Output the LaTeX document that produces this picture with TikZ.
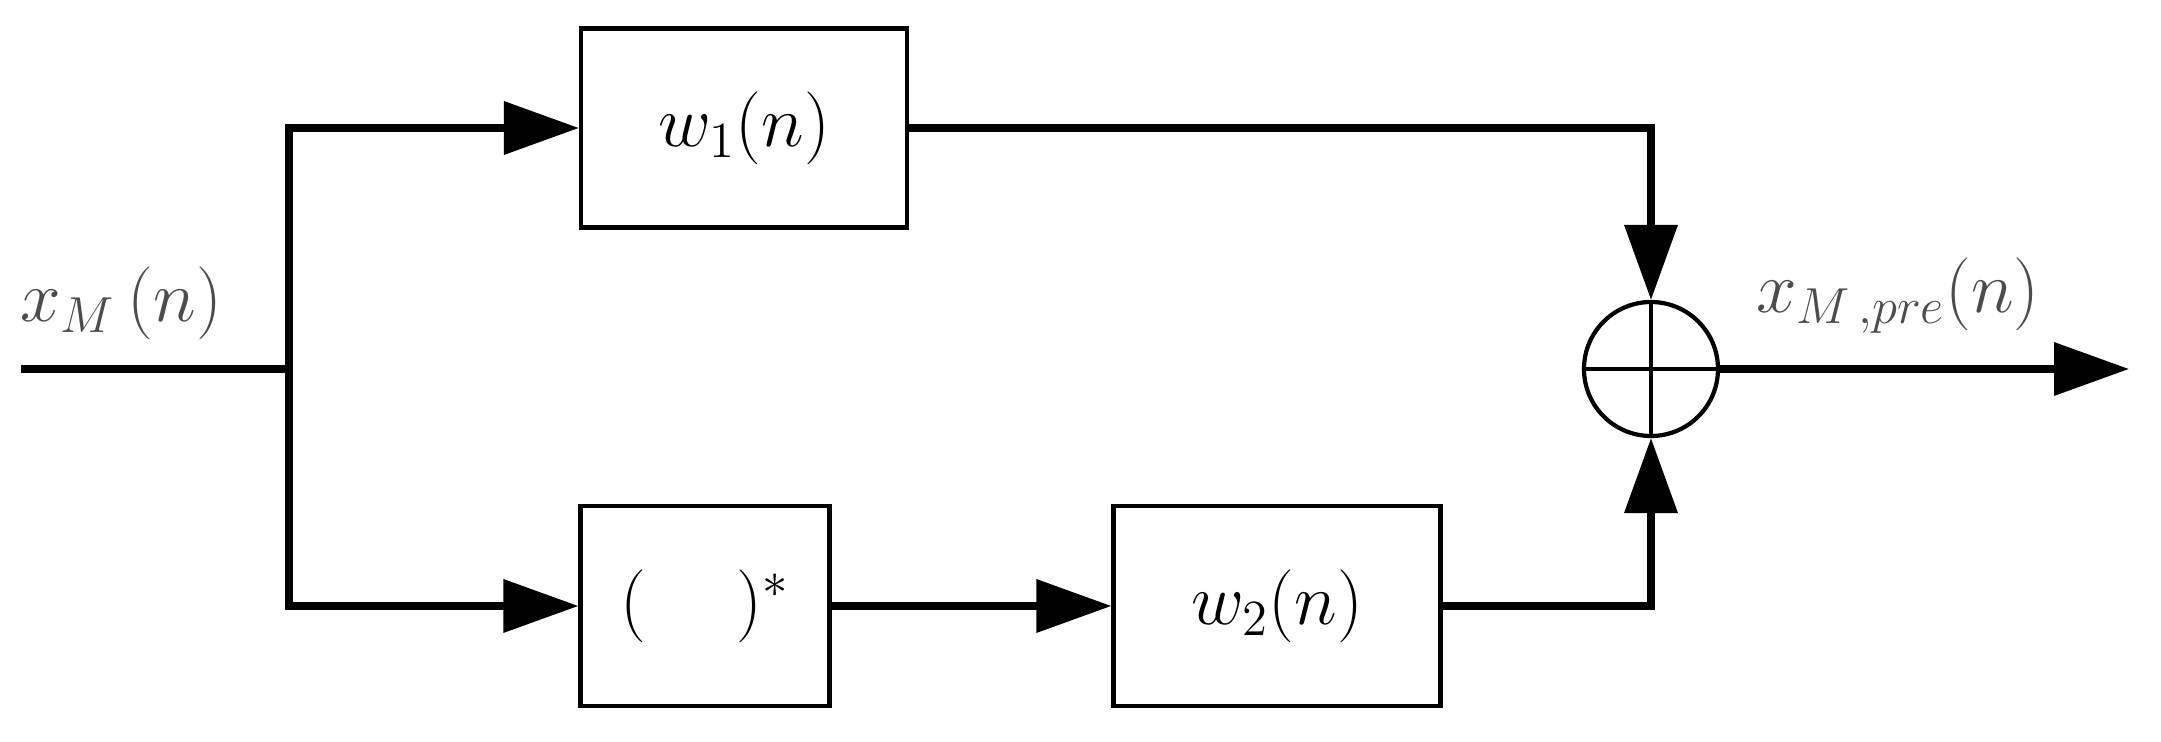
\documentclass[tikz,border=0pt]{standalone}
\usepackage{tikz}
\usetikzlibrary{arrows.meta}

\begin{document}
\begin{tikzpicture}[
    font=\fontsize{20}{24}\selectfont,
    blk/.style={draw,line width=1.2pt,inner sep=0pt},
    sig/.style={line width=2pt,-{Triangle[length=7.5mm,width=5.2mm]}}]
    \useasboundingbox (0,0) rectangle (21.61,7.42);

    \node[blk,minimum width=3.26cm,minimum height=1.99cm] (w1) at (7.44,6.14) {$w_1(n)$};
    \node[blk,minimum width=2.49cm,minimum height=2cm] (conj) at (7.05,1.36) {$(\;\quad)^{*}$};
    \node[blk,minimum width=3.27cm,minimum height=2cm] (w2) at (12.77,1.36) {$w_2(n)$};
    \node[blk,circle,minimum size=1.34cm] (sum) at (16.51,3.73) {};
    \draw[line width=1.2pt] (sum.north) -- (sum.south) (sum.west) -- (sum.east);

    \coordinate (in) at (0.21,3.73);
    \coordinate (split) at (2.89,3.73);
    \coordinate (out) at (21.29,3.73);
    \node[text=black!70] (xin) at (1.21,4.39) {$x_{M}\,(n)$};
    \node[text=black!70] (xout) at (18.98,4.46) {$x_{M\,,pre}(n)$};

    \draw[line width=2pt] (in) -- (split);
    \draw[sig] (split) |- (w1.west);
    \draw[sig] (split) |- (conj.west);
    \draw[sig] (conj) -- (w2);
    \draw[sig] (w1.east) -| (sum.north);
    \draw[sig] (w2.east) -| (sum.south);
    \draw[sig] (sum.east) -- (out);
  \end{tikzpicture}
\end{document}
